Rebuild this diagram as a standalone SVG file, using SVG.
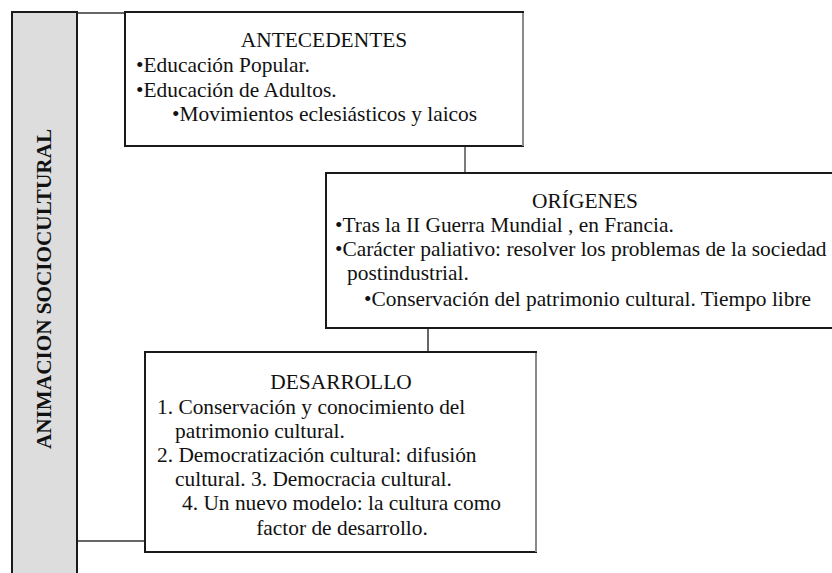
<svg xmlns="http://www.w3.org/2000/svg" width="832" height="573" viewBox="0 0 832 573">
<style>
.box{fill:#ffffff;stroke:#1a1a1a;stroke-width:2}
.edge{stroke:#8a8a8a;stroke-width:2;fill:none}
.conn{stroke:#333333;stroke-width:1.5;fill:none}
.conn2{stroke:#7a7a7a;stroke-width:2;fill:none}
text{font-family:"Liberation Serif","DejaVu Serif","Times New Roman",serif;font-size:21.4px;fill:#111111}
.title{text-anchor:middle}
.side{font-weight:bold;text-anchor:middle;font-size:21.2px}
</style>
<rect width="832" height="573" fill="#ffffff"/>
<g id="connectors">
<line class="conn" x1="77" y1="13" x2="125" y2="13"/>
<line class="conn" x1="78" y1="541" x2="145" y2="541"/>
<line class="conn2" x1="465" y1="146" x2="465" y2="173"/>
<line class="conn" x1="428" y1="328" x2="428" y2="352"/>
</g>
<g id="animacion">
<rect x="12" y="12" width="65" height="575" fill="#dddddd" stroke="#1a1a1a" stroke-width="2"/>
<text class="side" transform="translate(51,289) rotate(-90)">ANIMACION SOCIOCULTURAL</text>
</g>
<g id="antecedentes">
<rect class="box" x="125" y="12" width="398" height="134"/>
<line class="edge" x1="523" y1="13" x2="523" y2="146"/>
<text class="title" x="324" y="47">ANTECEDENTES</text>
<text x="136" y="72">•Educación Popular.</text>
<text x="136" y="97">•Educación de Adultos.</text>
<text x="172" y="121">•Movimientos eclesiásticos y laicos</text>
</g>
<g id="origenes">
<rect class="box" x="326" y="173" width="520" height="155"/>
<text class="title" x="585" y="208">ORÍGENES</text>
<text x="335" y="232">•Tras la II Guerra Mundial , en Francia.</text>
<text x="335" y="256">•Carácter paliativo: resolver los problemas de la sociedad</text>
<text x="347" y="280">postindustrial.</text>
<text x="364" y="306">•Conservación del patrimonio cultural. Tiempo libre</text>
</g>
<g id="desarrollo">
<rect class="box" x="145" y="352" width="391" height="200"/>
<line class="edge" x1="536" y1="353" x2="536" y2="552"/>
<text class="title" x="341" y="389">DESARROLLO</text>
<text x="157" y="414">1. Conservación y conocimiento del</text>
<text x="175" y="438">patrimonio cultural.</text>
<text x="157" y="462">2. Democratización cultural: difusión</text>
<text x="175" y="486">cultural. 3. Democracia cultural.</text>
<text x="182" y="510">4. Un nuevo modelo: la cultura como</text>
<text class="title" x="342" y="535">factor de desarrollo.</text>
</g>
</svg>
